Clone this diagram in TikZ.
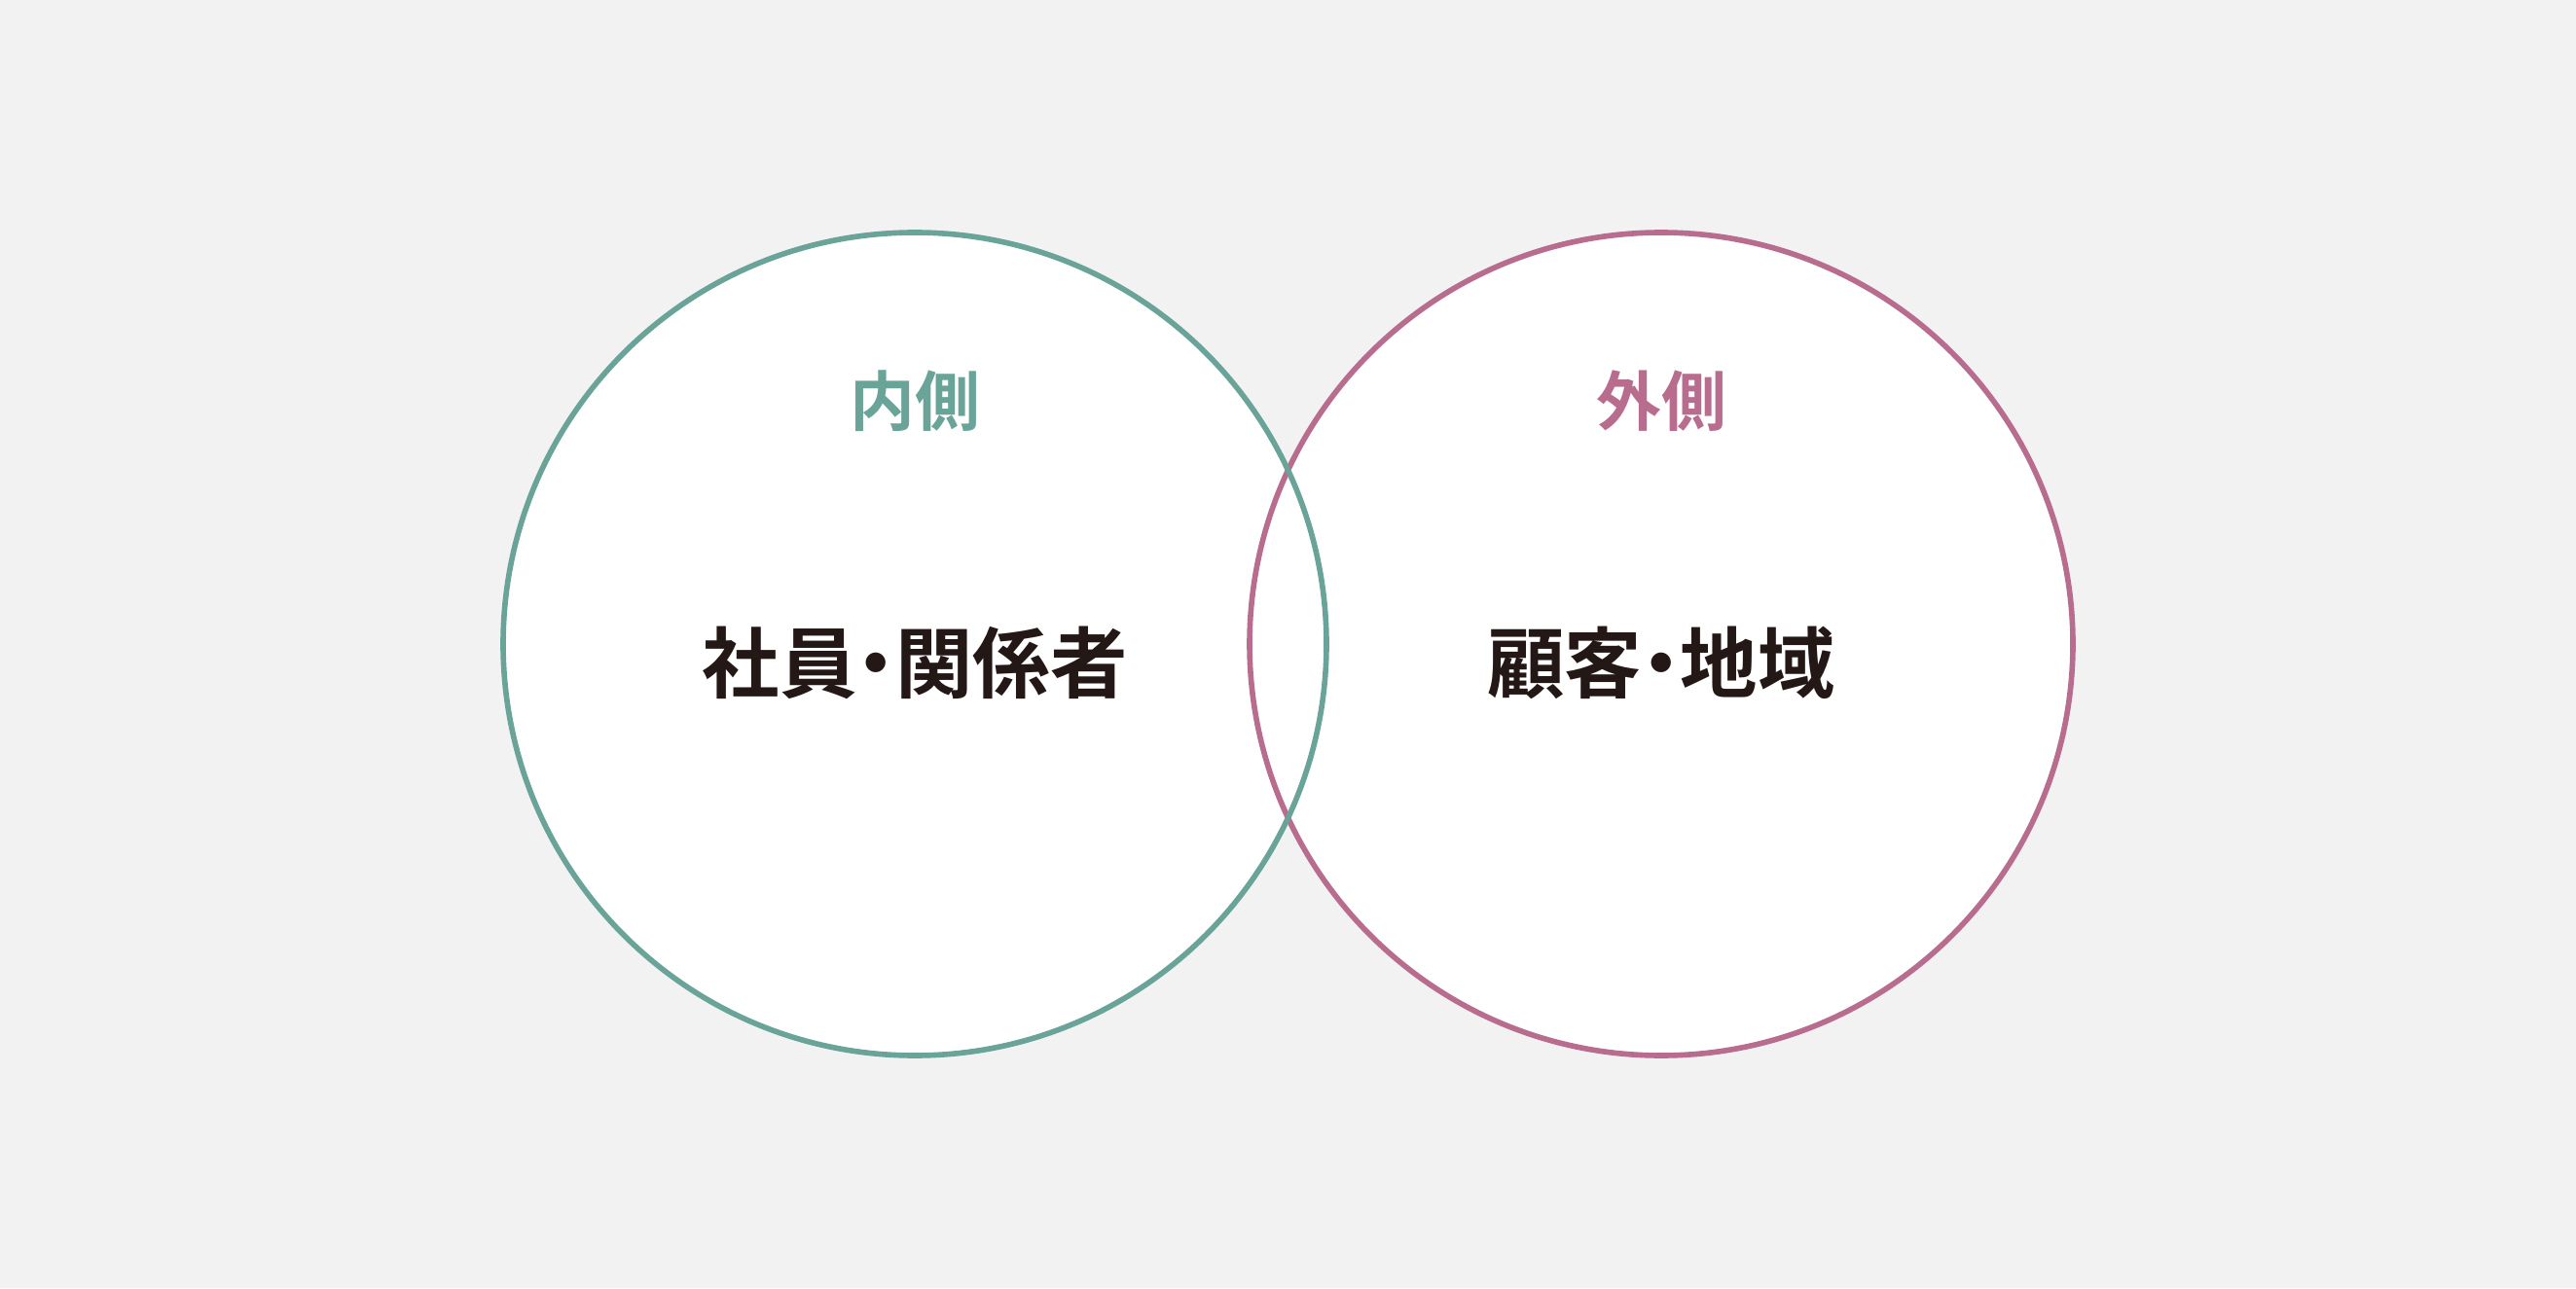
\documentclass[tikz,border=0pt]{standalone}
\usepackage{fontspec}
\newfontfamily\jpfont[RawFeature=+palt]{Noto Sans CJK JP Bold}
\definecolor{bgGray}{HTML}{F2F2F2}
\definecolor{inTeal}{HTML}{6AA398}
\definecolor{outPink}{HTML}{B86C8E}
\definecolor{inkBlack}{HTML}{231815}
\tikzset{
  ring/.style={line width=1.6pt},
  sidelabel/.style={font=\jpfont\fontsize{19pt}{21pt}\selectfont, inner sep=0pt},
  mainlabel/.style={font=\jpfont\fontsize{22.6pt}{24pt}\selectfont, text=inkBlack, inner sep=0pt}
}
\begin{document}
\begin{tikzpicture}
        \fill[bgGray] (0,0) rectangle (26.47,13.24);
        \useasboundingbox (0,0) rectangle (26.47,13.24);
        \coordinate (inner) at (9.40,6.62);
        \coordinate (outer) at (17.07,6.62);
        \fill[white] (inner) circle (4.23);
        \fill[white] (outer) circle (4.23);
        \draw[ring, outPink] (outer) circle (4.23);
        \draw[ring, inTeal] (inner) circle (4.23);
        \node[sidelabel, text=inTeal] (innerTitle) at (9.40,9.12) {内側};
        \node[sidelabel, text=outPink] (outerTitle) at (17.07,9.12) {外側};
        \node[mainlabel] (staff) at (9.40,6.43) {社員・関係者};
        \node[mainlabel] (community) at (17.07,6.43) {顧客・地域};
      \end{tikzpicture}
\end{document}
